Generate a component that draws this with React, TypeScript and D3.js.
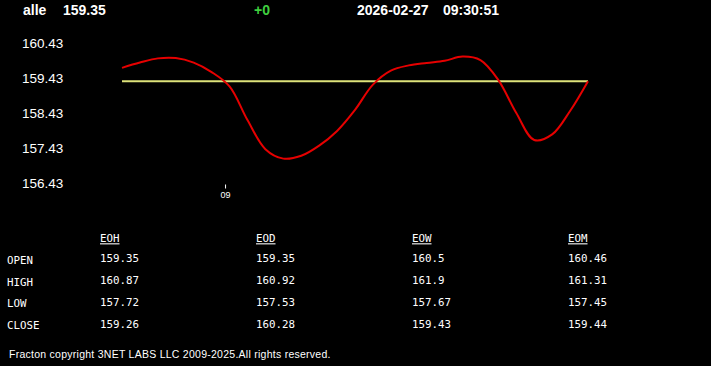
import React from "react";
import * as d3 from "d3";

const W = 711;
const H = 366;

const symbol = "alle";
const lastPrice = 159.35;
const change = "+0";
const dateText = "2026-02-27";
const timeText = "09:30:51";

const times = [
  "08:51:20", "08:52:50", "08:54:20", "08:55:50", "08:57:20", "08:58:50", "09:00:20",
  "09:01:50", "09:03:20", "09:04:50", "09:06:20", "09:07:50", "09:09:20", "09:10:50",
  "09:12:20", "09:13:50", "09:15:20", "09:16:50", "09:18:20", "09:19:50", "09:21:20",
  "09:22:50", "09:24:20", "09:25:50", "09:27:20", "09:28:50", "09:30:20",
];
const prices = [
  159.73, 159.88, 160.0, 160.01, 159.88, 159.61, 159.2,
  158.24, 157.41, 157.14, 157.22, 157.51, 157.93, 158.53,
  159.25, 159.65, 159.8, 159.87, 159.93, 160.05, 159.95,
  159.38, 158.44, 157.67, 157.83, 158.5, 159.35,
];
const yTicks = [160.43, 159.43, 158.43, 157.43, 156.43];
const xTickTimes = ["09:00:00"];
const xTickLabels = ["09"];

const colHeaders = ["EOH", "EOD", "EOW", "EOM"];
const rowLabels = ["OPEN", "HIGH", "LOW", "CLOSE"];
const openVals = ["159.35", "159.35", "160.5", "160.46"];
const highVals = ["160.87", "160.92", "161.9", "161.31"];
const lowVals = ["157.72", "157.53", "157.67", "157.45"];
const closeVals = ["159.26", "160.28", "159.43", "159.44"];
const footer = "Fracton copyright 3NET LABS LLC 2009-2025.All rights reserved.";

const parseT = d3.timeParse("%H:%M:%S");

export default function App() {
  const tDates = times.map((t) => parseT(t) as Date);
  const x = d3
    .scaleTime()
    .domain([tDates[0], tDates[tDates.length - 1]])
    .range([122, 588]);
  const y = d3.scaleLinear().domain([156.43, 160.43]).range([183.5, 43.3]);

  const line = d3
    .line<number>()
    .x((_, i) => x(tDates[i]))
    .y((d) => y(d))
    .curve(d3.curveCatmullRom.alpha(0.5));
  const path = line(prices) || "";

  const rows = [openVals, highVals, lowVals, closeVals];
  const colX = d3.scaleLinear().domain([0, 1]).range([100, 256]);
  const labelBase = [264, 285.5, 307, 329];
  const valBase = [262.3, 284, 305.8, 327.8];

  const mono = "'DejaVu Sans Mono', monospace";
  const sans = "'Liberation Sans', Arial, sans-serif";

  return (
    <svg
      width={W}
      height={H}
      style={{ position: "absolute", left: 0, top: 0, background: "#000" }}
    >
      <rect x={0} y={0} width={W} height={H} fill="#000" />
      {/* header */}
      <g fontFamily={sans} fontWeight="bold" fontSize={14} fill="#fff">
        <text x={23} y={14.5}>{symbol}</text>
        <text x={63} y={14.5}>{lastPrice.toFixed(2)}</text>
        <text x={254} y={14.5} fill="#3fcf3f">{change}</text>
        <text x={357} y={14.5}>{dateText}</text>
        <text x={443} y={14.5}>{timeText}</text>
      </g>
      {/* y axis labels */}
      <g fontFamily={sans} fontSize={13.5} fill="#fff">
        {yTicks.map((v) => (
          <text key={v} x={22} y={y(v)} dominantBaseline="central">
            {v.toFixed(2)}
          </text>
        ))}
      </g>
      {/* x ticks */}
      {xTickTimes.map((t, i) => {
        const xx = x(parseT(t) as Date);
        return (
          <g key={t}>
            <line x1={xx} x2={xx} y1={184.5} y2={188.5} stroke="#fff" strokeWidth={1} />
            <text
              x={xx}
              y={194.5}
              fontFamily={sans}
              fontSize={9}
              fill="#fff"
              textAnchor="middle"
              dominantBaseline="central"
            >
              {xTickLabels[i]}
            </text>
          </g>
        );
      })}
      {/* current price line */}
      <line
        x1={x(tDates[0])}
        x2={x(tDates[tDates.length - 1])}
        y1={y(lastPrice)}
        y2={y(lastPrice)}
        stroke="#dde27a"
        strokeWidth={2}
      />
      {/* price curve */}
      <path d={path} fill="none" stroke="#e60000" strokeWidth={2} />
      {/* table */}
      <g fontFamily={mono} fontSize={10.8} fill="#fff">
        {colHeaders.map((h, i) => (
          <text key={h} x={colX(i)} y={242.3} textDecoration="underline">
            {h}
          </text>
        ))}
        {rowLabels.map((r, i) => (
          <text key={r} x={7} y={labelBase[i]}>
            {r}
          </text>
        ))}
        {rows.map((vals, ri) =>
          vals.map((v, ci) => (
            <text key={ri + "-" + ci} x={colX(ci)} y={valBase[ri]}>
              {v}
            </text>
          ))
        )}
      </g>
      <text x={9} y={358.3} fontFamily={sans} fontSize={10.5} letterSpacing={0.26} fill="#fff">
        {footer}
      </text>
    </svg>
  );
}
